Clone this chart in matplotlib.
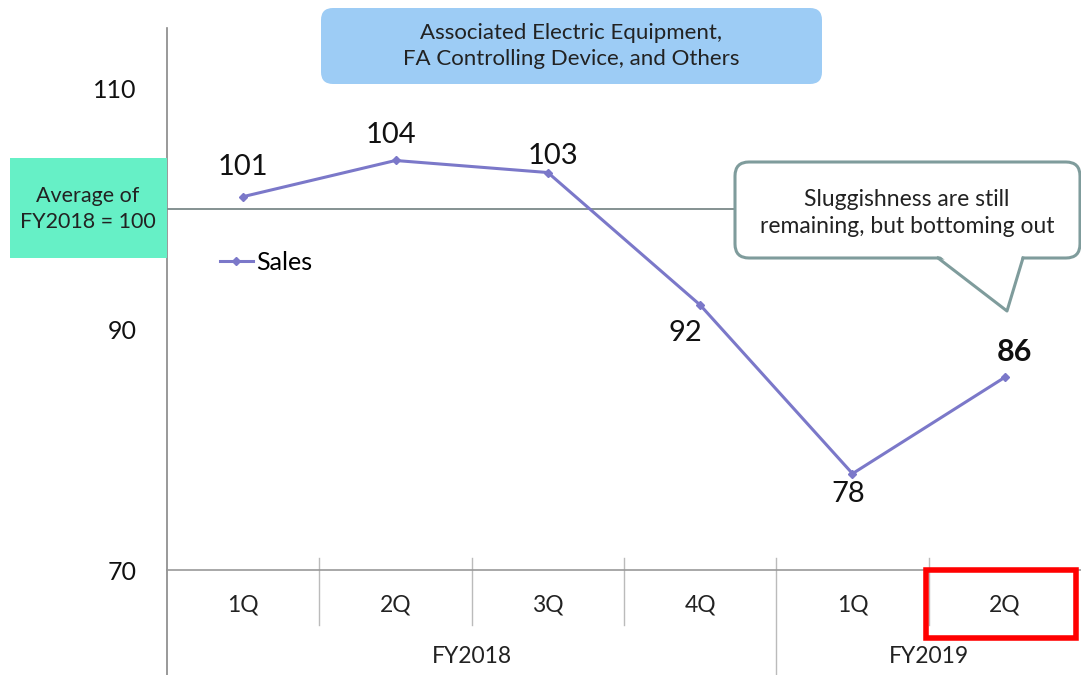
import matplotlib.pyplot as plt
from matplotlib.patches import FancyBboxPatch, Rectangle, Polygon
from matplotlib.lines import Line2D
from matplotlib.transforms import IdentityTransform

plt.rcParams['font.family'] = ['Lato', 'DejaVu Sans']

# Data
quarters = ['1Q', '2Q', '3Q', '4Q', '1Q', '2Q']
fiscal_years = ['FY2018', 'FY2019']
fy_spans = [(0, 4), (4, 6)]  # quarter index ranges per fiscal year
sales = [101, 104, 103, 92, 78, 86]
baseline = 100
yticks = [70, 90, 110]

# label offsets in pixels (layout only)
label_offsets = [(0, 30), (-5, 25), (5, 17), (-15, -28), (-4, -20), (10, 25)]

line_color = '#7b78c9'
text_color = '#111111'
W, H = 1081, 675

fig = plt.figure(figsize=(W / 100, H / 100), dpi=100)
ax = fig.add_axes([167 / W, 105 / H, 1 - 167 / W, 542 / H])
x = list(range(len(sales)))

ax.axhline(baseline, xmax=0.625, color='#6f7f7f', lw=1.2, zorder=1)
ax.plot(x, sales, color=line_color, lw=2.2, marker='D', ms=4, label='Sales', zorder=3)

for i, (v, off) in enumerate(zip(sales, label_offsets)):
    last = i == len(sales) - 1
    ax.annotate(str(v), (i, v), xytext=off, textcoords='offset pixels',
                ha='center', va='center', fontsize=22 if last else 21,
                fontweight='bold' if last else 'normal', color=text_color)

ax.set_xlim(-0.5, len(sales) - 0.5)
ax.set_ylim(70, 115)
ax.set_yticks(yticks)
ax.set_yticklabels([str(t) for t in yticks], fontsize=18, color=text_color)
ax.tick_params(axis='y', length=0, pad=22)
ax.set_xticks([])
for s in ['top', 'right']:
    ax.spines[s].set_visible(False)
ax.spines['left'].set_color('#888888')
ax.spines['bottom'].set_color('#999999')
ax.spines['left'].set_linewidth(1.2)
ax.spines['bottom'].set_linewidth(1.2)

xt = ax.get_xaxis_transform()
# left axis extension into category area
ax.add_line(Line2D([-0.5, -0.5], [0, -0.2], transform=xt, color='#888888', lw=1.2, clip_on=False))
# quarter separators
for b in range(1, len(quarters)):
    bottom = -0.2 if b == fy_spans[0][1] else -0.1015
    ax.add_line(Line2D([b - 0.5, b - 0.5], [0.022, bottom], transform=xt,
                       color='#bbbbbb', lw=1, clip_on=False))
for i, q in enumerate(quarters):
    ax.text(i, -0.0646, q, transform=xt, ha='center', va='center', fontsize=16.5, color='#222222')
for fy, (a, b) in zip(fiscal_years, fy_spans):
    ax.text((a + b - 1) / 2, -0.1605, fy, transform=xt, ha='center', va='center',
            fontsize=16.5, color='#222222')

# highlight box on last quarter
ax.add_patch(Rectangle((len(quarters) - 1.5 - 0.02, -0.125), 0.99, 0.125, transform=xt,
                       fill=False, edgecolor='#ff0000', lw=4, clip_on=False, zorder=6))

ax.legend(loc='center left', bbox_to_anchor=(0.058, 0.568), frameon=False, fontsize=18,
          handlelength=1.3, handletextpad=0.15, borderpad=0, borderaxespad=0)

pix = IdentityTransform()

# green label box
fig.add_artist(Rectangle((10, H - 258), 157, 100, transform=pix, facecolor='#66f0c6',
                         edgecolor='none', zorder=5))
fig.text(88 / W, (H - 209) / H, 'Average of\nFY2018 = 100', ha='center', va='center',
         fontsize=15.5, color='#222222', linespacing=1.35, zorder=6)

# title box
fig.add_artist(FancyBboxPatch((321, H - 84), 501, 76, transform=pix,
                              boxstyle='round,pad=0,rounding_size=12',
                              facecolor='#9dccf5', edgecolor='none', zorder=5))
fig.text(571 / W, (H - 46) / H, 'Associated Electric Equipment,\nFA Controlling Device, and Others',
         ha='center', va='center', fontsize=16, color='#222222', linespacing=1.4, zorder=6)

# callout
edge = '#7f9c9c'
fig.add_artist(FancyBboxPatch((735, H - 258), 345, 96, transform=pix,
                              boxstyle='round,pad=0,rounding_size=14',
                              facecolor='white', edgecolor=edge, lw=2.2, zorder=5))
fig.add_artist(Polygon([(940, H - 256), (1007, H - 311), (1022, H - 256)], closed=True,
                       transform=pix, facecolor='white', edgecolor='none', zorder=6))
fig.add_artist(Line2D([938, 1007, 1023], [H - 258, H - 311, H - 258], transform=pix,
                      color=edge, lw=2.2, zorder=7))
fig.text(907 / W, (H - 213) / H, 'Sluggishness are still\nremaining, but bottoming out',
         ha='center', va='center', fontsize=16.5, color='#222222', linespacing=1.3, zorder=8)

fig.savefig('out.png', dpi=100)
